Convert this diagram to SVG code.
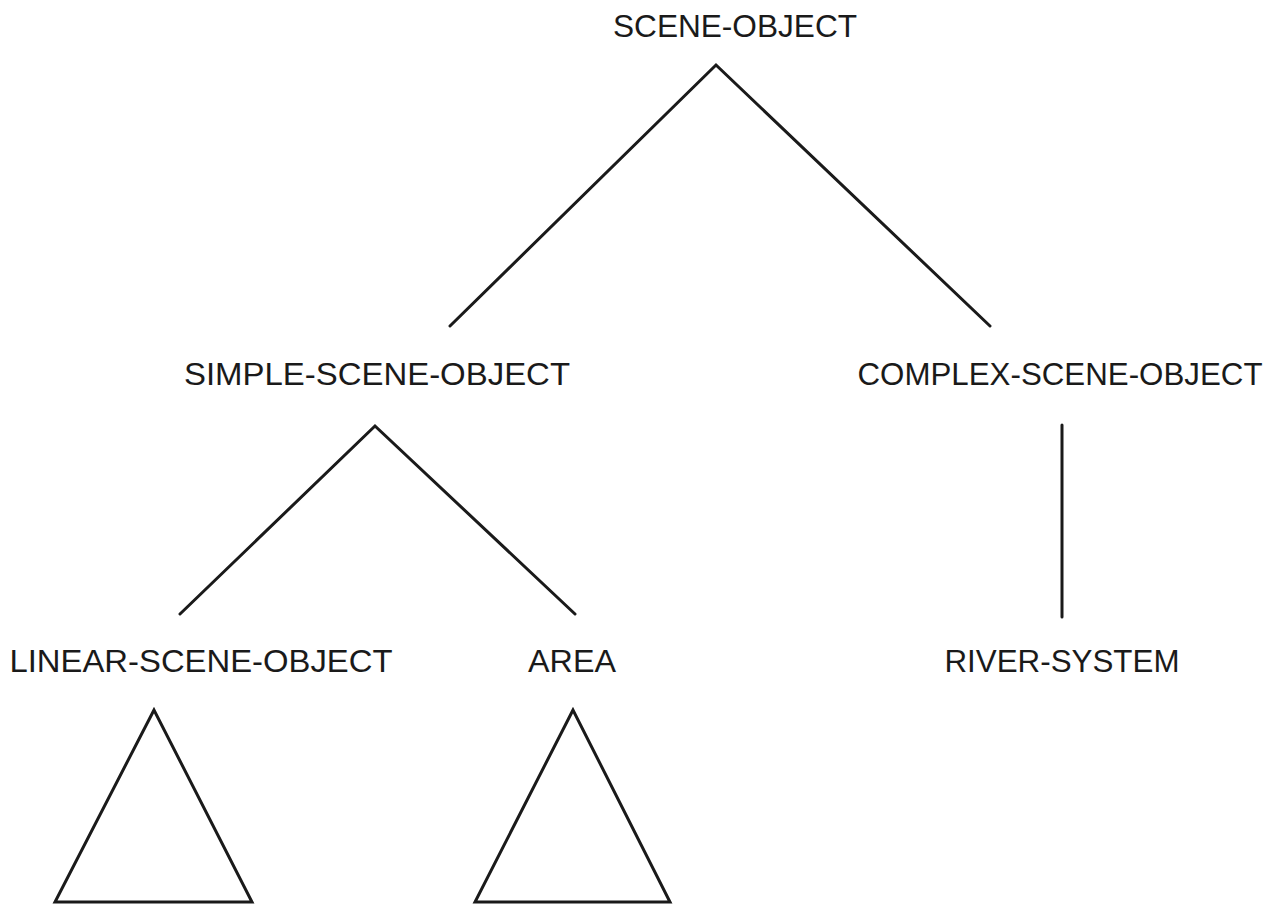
<svg xmlns="http://www.w3.org/2000/svg" width="1278" height="905" viewBox="0 0 1278 905">
<style>
text{font-family:"Liberation Sans",Arial,sans-serif;font-size:31px;fill:#1a1a1a;text-anchor:middle}
.c{stroke:#1a1a1a;stroke-width:3;fill:none;stroke-linecap:round;stroke-linejoin:miter}
</style>
<rect width="1278" height="905" fill="#fff"/>
<g id="scene-object"><text x="735" y="37" textLength="244" lengthAdjust="spacingAndGlyphs">SCENE-OBJECT</text></g>
<g id="simple-scene-object"><text x="377" y="385" textLength="386" lengthAdjust="spacingAndGlyphs">SIMPLE-SCENE-OBJECT</text></g>
<g id="complex-scene-object"><text x="1060" y="385" textLength="405" lengthAdjust="spacingAndGlyphs">COMPLEX-SCENE-OBJECT</text></g>
<g id="linear-scene-object"><text x="201" y="672" textLength="383" lengthAdjust="spacingAndGlyphs">LINEAR-SCENE-OBJECT</text>
<polygon class="c" points="154,710 55,902 252,902"/></g>
<g id="area"><text x="572" y="672" textLength="88" lengthAdjust="spacingAndGlyphs">AREA</text>
<polygon class="c" points="573,710 475,902 670,902"/></g>
<g id="river-system"><text x="1062" y="672" textLength="235" lengthAdjust="spacingAndGlyphs">RIVER-SYSTEM</text></g>
<g id="connectors">
<polyline class="c" points="450,326 716,65 990,326"/>
<polyline class="c" points="180,614 375,426 575,614"/>
<line class="c" x1="1062" y1="425" x2="1062" y2="617"/>
</g>
</svg>
